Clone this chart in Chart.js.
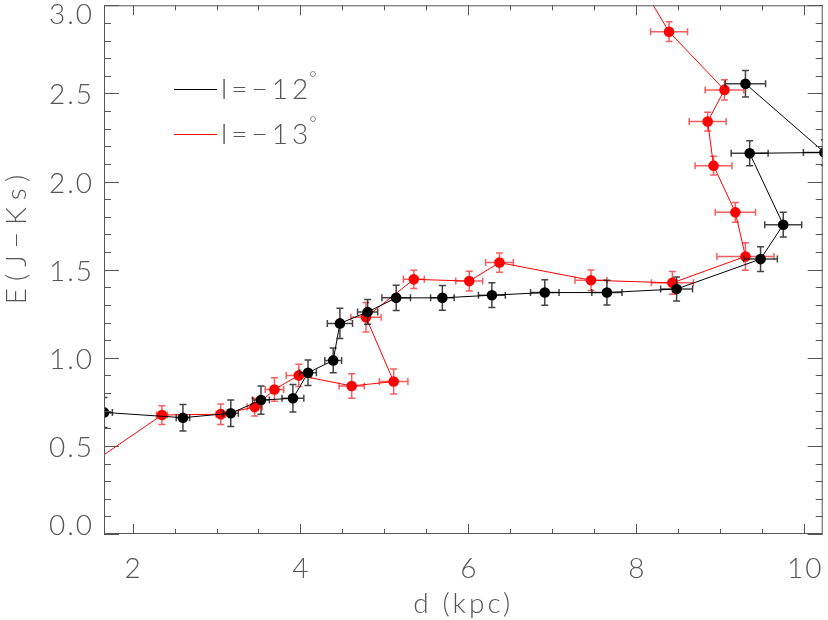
<!DOCTYPE html>
<html>
<head>
<meta charset="utf-8">
<title>E(J-Ks) vs distance</title>
<script src="https://cdn.jsdelivr.net/npm/chart.js@4.4.1/dist/chart.umd.min.js"></script>
<style>
  html, body { margin: 0; padding: 0; background: #fff; }
</style>
</head>
<body>
<canvas id="chart" width="828" height="620"></canvas>
<script>
// ---------- DATA ----------

// l = -12 deg
const distL12 = [1.66, 2.60, 3.17, 3.53, 3.91, 4.09, 4.39, 4.47, 4.80, 5.14, 5.69, 6.28, 6.91, 7.65, 8.48, 9.48, 9.75, 9.35, 10.24, 9.30];
const ejkL12  = [0.69, 0.66, 0.685, 0.76, 0.77, 0.915, 0.985, 1.195, 1.26, 1.34, 1.34, 1.355, 1.37, 1.37, 1.39, 1.56, 1.755, 2.16, 2.165, 2.555];
const dErrL12 = [0.10, 0.08, 0.09, 0.10, 0.13, 0.10, 0.10, 0.15, 0.12, 0.17, 0.14, 0.16, 0.17, 0.18, 0.19, 0.20, 0.22, 0.22, 0.25, 0.24];
const eErrL12 = [0.085, 0.075, 0.075, 0.08, 0.078, 0.072, 0.07, 0.086, 0.07, 0.072, 0.07, 0.07, 0.072, 0.07, 0.068, 0.07, 0.07, 0.071, 0.072, 0.075];

// l = -13 deg
const distL13 = [1.20, 2.35, 3.05, 3.455, 3.69, 3.98, 4.61, 5.11, 4.78, 5.35, 6.01, 6.37, 7.46, 8.43, 9.30, 9.18, 8.92, 8.85, 9.05, 8.39, 7.95];
const ejkL13  = [0.30, 0.675, 0.68, 0.72, 0.82, 0.90, 0.84, 0.865, 1.23, 1.445, 1.435, 1.54, 1.44, 1.425, 1.575, 1.825, 2.09, 2.34, 2.52, 2.85, 3.20];
const dErrL13 = [0.06, 0.065, 0.055, 0.09, 0.11, 0.15, 0.15, 0.17, 0.18, 0.125, 0.16, 0.165, 0.19, 0.25, 0.34, 0.24, 0.22, 0.22, 0.23, 0.22, 0.22];
const eErrL13 = [0.05, 0.053, 0.058, 0.05, 0.067, 0.063, 0.07, 0.071, 0.084, 0.052, 0.056, 0.055, 0.058, 0.065, 0.078, 0.056, 0.053, 0.053, 0.058, 0.056, 0.06];

const seriesLabels = ["l=\u221212", "l=\u221213"];
const xTicks = [2, 4, 6, 8, 10];
const yTicks = [0.0, 0.5, 1.0, 1.5, 2.0, 2.5, 3.0];
const xTitle = "d (kpc)";
const yTitle = "E(J\u2212Ks)";

// ---------- STYLE ----------

const AXIS = "#555";
const TEXT = "#555";
const FONT = '300 28px "Lato", "DejaVu Sans", sans-serif';

function toPoints(d, e, dErr, eErr) {
  return d.map((x, i) => ({ x, y: e[i], xErr: dErr[i], yErr: eErr[i] }));
}

// error bars, drawn just before each dataset so points sit on top
const errorBars = {
  id: "errorBars",
  beforeDatasetDraw(chart, args) {
    const ds = chart.data.datasets[args.index];
    const { ctx, chartArea: a, scales: { x, y } } = chart;
    const cap = 3.5;
    ctx.save();
    ctx.beginPath();
    ctx.rect(a.left, a.top, a.right - a.left, a.bottom - a.top);
    ctx.clip();
    ctx.strokeStyle = ds.errorColor;
    ctx.lineWidth = 1.5;
    ds.data.forEach(p => {
      const px = x.getPixelForValue(p.x);
      const py = y.getPixelForValue(p.y);
      const x0 = x.getPixelForValue(p.x - p.xErr);
      const x1 = x.getPixelForValue(p.x + p.xErr);
      const y0 = y.getPixelForValue(p.y - p.yErr);
      const y1 = y.getPixelForValue(p.y + p.yErr);
      ctx.beginPath();
      ctx.moveTo(x0, py); ctx.lineTo(x1, py);
      ctx.moveTo(x0, py - cap); ctx.lineTo(x0, py + cap);
      ctx.moveTo(x1, py - cap); ctx.lineTo(x1, py + cap);
      ctx.moveTo(px, y0); ctx.lineTo(px, y1);
      ctx.moveTo(px - cap, y0); ctx.lineTo(px + cap, y0);
      ctx.moveTo(px - cap, y1); ctx.lineTo(px + cap, y1);
      ctx.stroke();
    });
    ctx.restore();
  }
};

// IDL-like frame: box, inward ticks, labels, titles, legend
const frame = {
  id: "frame",
  afterDraw(chart) {
    const { ctx, chartArea: a, scales: { x, y } } = chart;
    ctx.save();
    ctx.strokeStyle = AXIS;
    ctx.lineWidth = 1;

    // box
    ctx.strokeRect(a.left + 0.5, a.top + 0.5, a.right - a.left - 1, a.bottom - a.top - 1);

    // x ticks (bottom + top)
    ctx.beginPath();
    for (let v = 2; v <= x.max + 1e-9; v += 0.5) {
      const px = Math.round(x.getPixelForValue(v)) + 0.5;
      const len = Math.abs(v - Math.round(v / 2) * 2) < 1e-6 ? 10 : 5;
      ctx.moveTo(px, a.bottom); ctx.lineTo(px, a.bottom - len);
      ctx.moveTo(px, a.top); ctx.lineTo(px, a.top + len);
    }
    // y ticks (left + right)
    for (let i = 0; i <= 30; i++) {
      const v = i / 10;
      const py = Math.round(y.getPixelForValue(v)) + 0.5;
      const len = i % 5 === 0 ? 15 : 7;
      ctx.moveTo(a.left, py); ctx.lineTo(a.left + len, py);
      ctx.moveTo(a.right, py); ctx.lineTo(a.right - len, py);
    }
    ctx.stroke();

    // tick labels
    ctx.fillStyle = TEXT;
    ctx.font = FONT;
    ctx.letterSpacing = "2px";
    ctx.textBaseline = "middle";
    ctx.textAlign = "center";
    xTicks.forEach(v => {
      ctx.fillText(String(v), x.getPixelForValue(v) + 1, a.bottom + 35);
    });
    ctx.textAlign = "right";
    yTicks.forEach(v => {
      let py = y.getPixelForValue(v) + 2;
      py = Math.min(Math.max(py, a.top + 10), a.bottom - 8);
      ctx.fillText(v.toFixed(1), a.left - 10, py);
    });

    // axis titles
    ctx.textAlign = "center";
    ctx.letterSpacing = "3px";
    ctx.fillText(xTitle, (a.left + a.right) / 2, a.bottom + 70);
    ctx.save();
    ctx.translate(17, 236);
    ctx.rotate(-Math.PI / 2);
    ctx.letterSpacing = "7px";
    ctx.fillText(yTitle, 0, 0);
    ctx.restore();

    // legend
    const items = chart.data.datasets;
    items.forEach((ds, i) => {
      const ly = 89 + i * 45;
      ctx.strokeStyle = ds.borderColor;
      ctx.lineWidth = 1;
      ctx.beginPath();
      ctx.moveTo(174, ly + 0.5); ctx.lineTo(217, ly + 0.5);
      ctx.stroke();
      ctx.textAlign = "left";
      ctx.letterSpacing = "4px";
      ctx.fillText(ds.label, 221, ly + 1);
      const w = ctx.measureText(ds.label).width;
      ctx.font = '300 18px "Lato", "DejaVu Sans", sans-serif';
      ctx.letterSpacing = "0px";
      ctx.fillText("\u00B0", 221 + w - 3, ly - 11);
      ctx.font = FONT;
    });

    ctx.restore();
  }
};

new Chart(document.getElementById("chart"), {
  type: "scatter",
  data: {
    datasets: [
      {
        label: seriesLabels[0],
        data: toPoints(distL12, ejkL12, dErrL12, eErrL12),
        showLine: true,
        borderColor: "#000",
        borderWidth: 1,
        backgroundColor: "#000",
        pointBackgroundColor: "#000",
        pointBorderWidth: 0,
        pointRadius: 5.3,
        errorColor: "rgba(20,20,20,0.8)",
        clip: 0,
        order: 0
      },
      {
        label: seriesLabels[1],
        data: toPoints(distL13, ejkL13, dErrL13, eErrL13),
        showLine: true,
        borderColor: "#f00",
        borderWidth: 1,
        backgroundColor: "#f00",
        pointBackgroundColor: "#f00",
        pointBorderWidth: 0,
        pointRadius: 5.3,
        errorColor: "rgba(240,40,40,0.75)",
        clip: 0,
        order: 1
      }
    ]
  },
  options: {
    responsive: false,
    animation: false,
    layout: { padding: { top: 0, right: 1, bottom: 0, left: 0 } },
    plugins: {
      legend: { display: false },
      tooltip: { enabled: false }
    },
    scales: {
      x: {
        type: "linear",
        min: 1.66,
        max: 10.22,
        grid: { display: false },
        border: { display: false },
        ticks: { display: false },
        afterFit: s => { s.height = 86; }
      },
      y: {
        type: "linear",
        min: 0,
        max: 3.0,
        grid: { display: false },
        border: { display: false },
        ticks: { display: false },
        afterFit: s => { s.width = 104; }
      }
    }
  },
  plugins: [errorBars, frame]
});
</script>
</body>
</html>
